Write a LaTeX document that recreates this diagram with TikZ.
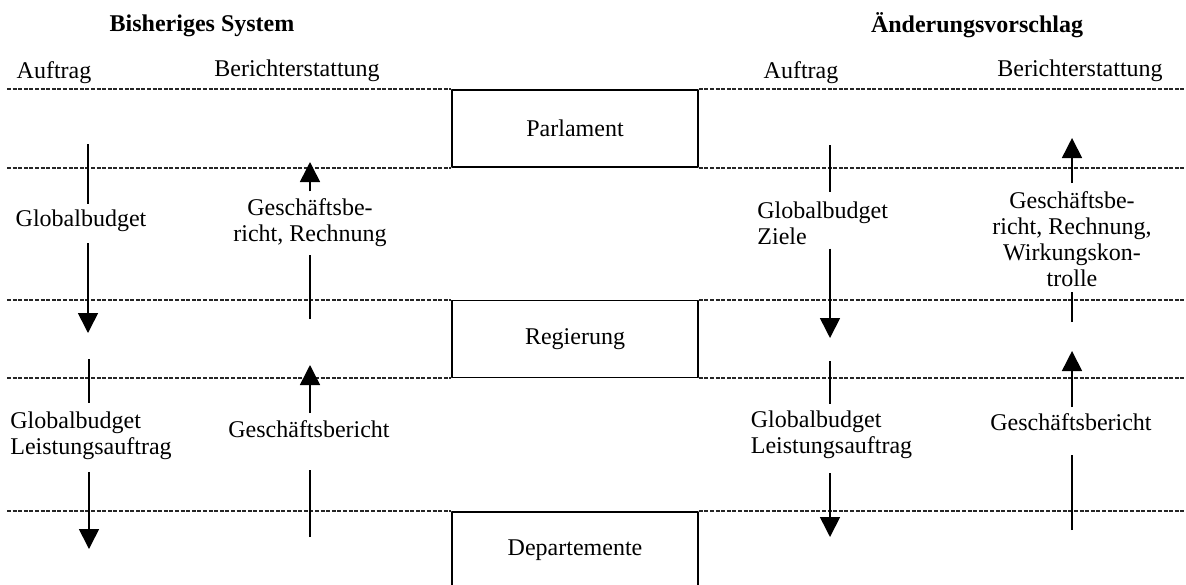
\documentclass[tikz,border=0pt]{standalone}
\usepackage{fontspec}
\setmainfont{Liberation Serif}
\usetikzlibrary{arrows.meta}
\begin{document}
\begin{tikzpicture}[x=0.5pt,y=-0.5pt,>={Triangle[width=10pt,length=10pt]},line join=round,
	font=\fontsize{12}{13}\selectfont,
	lbl/.style={inner sep=0pt,align=center},
	box/.style={draw,line width=0.8pt,minimum width=123pt,minimum height=38.5pt,inner sep=0pt},
	dots/.style={line width=1pt,black!85,dash pattern=on 2pt off 0.8pt},
	arr/.style={line width=0.8pt}]
	\useasboundingbox (0,0) rectangle (1186,584);
	% Kopfzeilen
	\node[font=\fontsize{12}{13}\selectfont\bfseries] (hd1) at (202,26) {Bisheriges System};
	\node[font=\fontsize{12}{13}\selectfont\bfseries] (hd2) at (977,25) {Änderungsvorschlag};
	\node (auf1) at (54,73) {Auftrag};
	\node (ber1) at (297,71) {Berichterstattung};
	\node (auf2) at (801,73) {Auftrag};
	\node (ber2) at (1080,71) {Berichterstattung};
	% Ebenen
	\node[box] (parl) at (575,128.5) {Parlament};
	\node[box] (reg) at (575,339) {Regierung};
	\node[box] (dep) at (575,550.5) {Departemente};
	\coordinate (lft) at (7,0);
	\coordinate (rgt) at (1185,0);
	\foreach \b/\s in {parl/north,parl/south,reg/north,reg/south,dep/north}{
		\draw[dots] (lft |- \b.\s) -- (\b.\s\space west);
		\draw[dots] (\b.\s\space east) -- (rgt |- \b.\s);
	}
	% bisheriges System, Auftrag
	\coordinate (a1s) at (88,144);
	\coordinate (a1e) at (88,333);
	\node[lbl] (a1l) at (81,221) {Globalbudget};
	\draw[arr,shorten >=3pt] (a1s) -- (a1s |- a1l.north);
	\draw[arr,->,shorten <=5.5pt] (a1s |- a1l.south) -- (a1e);
	\coordinate (a2s) at (89,359);
	\coordinate (a2e) at (89,549);
	\node[lbl,anchor=west,align=left] (a2l) at (10,435.5) {Globalbudget\\Leistungsauftrag};
	\draw[arr,shorten >=4pt] (a2s) -- (a2s |- a2l.north);
	\draw[arr,->,shorten <=6pt] (a2s |- a2l.south) -- (a2e);
	% bisheriges System, Berichterstattung
	\coordinate (b1s) at (310,319);
	\coordinate (b1e) at (310,162);
	\node[lbl] (b1l) at (310,222.5) {Geschäftsbe-\\richt, Rechnung};
	\draw[arr,shorten >=3.8pt] (b1s) -- (b1s |- b1l.south);
	\draw[arr,->,shorten <=3.3pt] (b1s |- b1l.north) -- (b1e);
	\coordinate (b2s) at (310,537);
	\coordinate (b2e) at (310,365);
	\node[lbl] (b2l) at (309,428.8) {Geschäftsbericht};
	\draw[arr,shorten >=16pt] (b2s) -- (b2s |- b2l.south);
	\draw[arr,->,shorten <=3.3pt] (b2s |- b2l.north) -- (b2e);
	% Vorschlag, Auftrag
	\coordinate (c1s) at (830,145);
	\coordinate (c1e) at (830,338);
	\node[lbl,anchor=west,align=left] (c1l) at (757,223) {Globalbudget\\Ziele};
	\draw[arr,shorten >=4.4pt] (c1s) -- (c1s |- c1l.north);
	\draw[arr,->,shorten <=1.9pt] (c1s |- c1l.south) -- (c1e);
	\coordinate (c2s) at (830,361);
	\coordinate (c2e) at (830,537);
	\node[lbl,anchor=west,align=left] (c2l) at (750.5,435) {Globalbudget\\Leistungsauftrag};
	\draw[arr,shorten >=3.5pt] (c2s) -- (c2s |- c2l.north);
	\draw[arr,->,shorten <=7pt] (c2s |- c2l.south) -- (c2e);
	% Vorschlag, Berichterstattung
	\coordinate (d1s) at (1072,322);
	\coordinate (d1e) at (1072,138);
	\node[lbl] (d1l) at (1072,239) {Geschäftsbe-\\richt, Rechnung,\\Wirkungskon-\\trolle};
	\draw[arr,shorten >=2.4pt] (d1s) -- (d1s |- d1l.south);
	\draw[arr,->,shorten <=3.9pt] (d1s |- d1l.north) -- (d1e);
	\coordinate (d2s) at (1072,530);
	\coordinate (d2e) at (1072,351);
	\node[lbl] (d2l) at (1071,422) {Geschäftsbericht};
	\draw[arr,shorten >=12pt] (d2s) -- (d2s |- d2l.south);
	\draw[arr,->,shorten <=3pt] (d2s |- d2l.north) -- (d2e);
\end{tikzpicture}
\end{document}
